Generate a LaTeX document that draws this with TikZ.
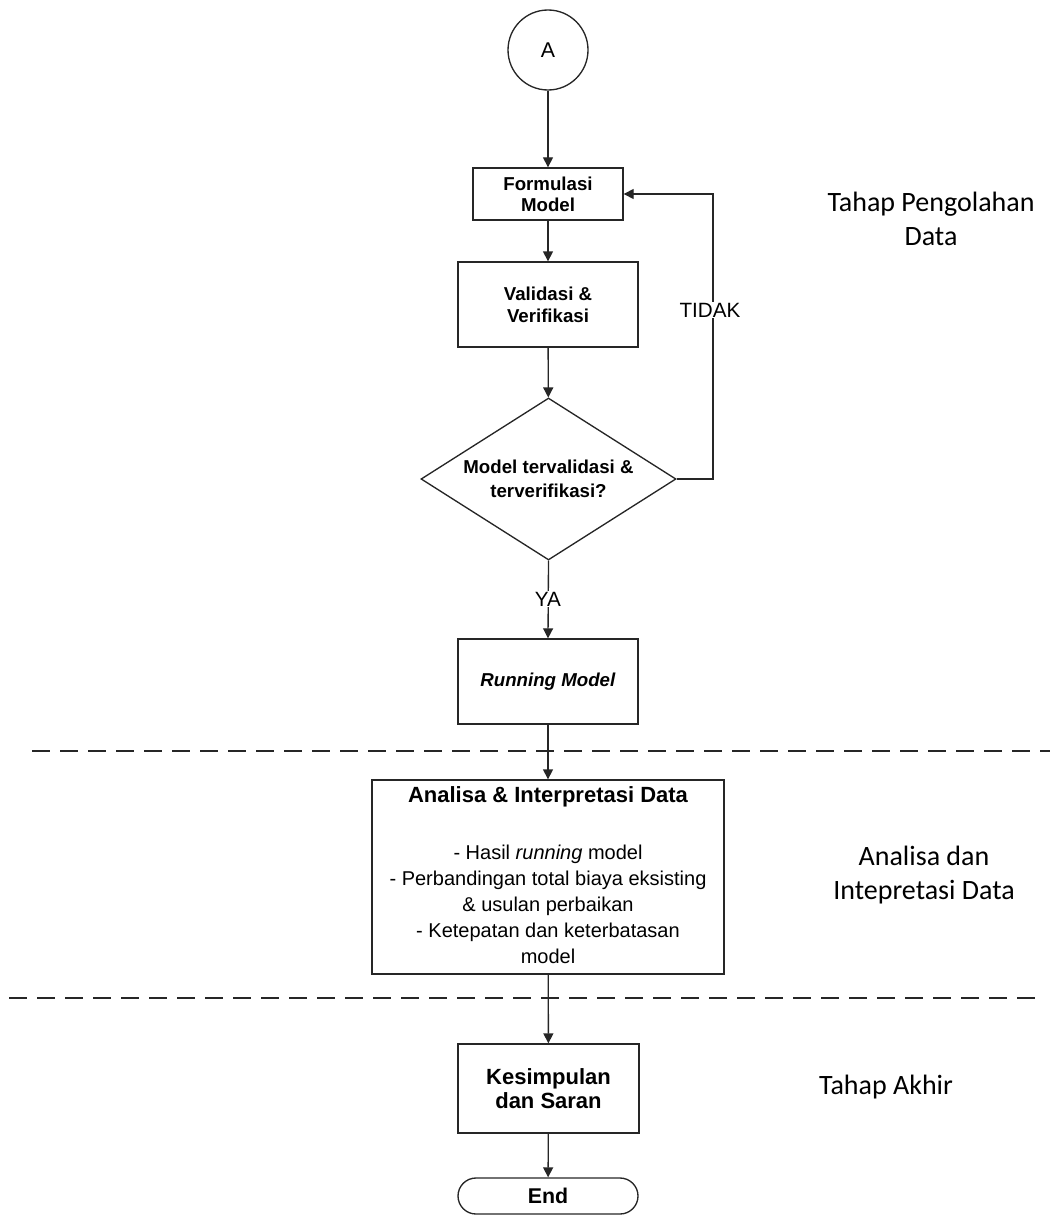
\documentclass[tikz,border=0pt]{standalone}
\usepackage{fontspec}
\setmainfont{Liberation Sans}
\newfontfamily\calibri{Carlito}
\usetikzlibrary{shapes.geometric,arrows.meta}
\newdimen\pxu
\pxu=0.75pt
\begin{document}
\begin{tikzpicture}[x=0.75pt,y=-0.75pt,
  line/.style={draw=black!85,line width=1pt},
  arr/.style={line,-{Triangle[length=7.5pt,width=7.5pt]}},
  procbox/.style={rectangle,line,fill=white,inner sep=0pt,align=center,font=\bfseries\fontsize{14}{16.5}\selectfont},
  phase/.style={align=center,font=\calibri\fontsize{21}{26}\selectfont},
  sepline/.style={draw=black!85,line width=2.2pt,dash pattern=on 13.5pt off 7.5pt},
  edgelabel/.style={fill=white,inner sep=1pt,font=\fontsize{15.5}{18}\selectfont}]
\useasboundingbox (0,0) rectangle (1055,1216);

% connector circle
\node[circle,line,minimum size=80*\pxu,inner sep=0pt,font=\fontsize{16}{18}\selectfont] (A) at (548,50) {A};

% processing stage
\node[procbox,minimum width=150*\pxu,minimum height=52*\pxu,font=\bfseries\fontsize{14}{15.5}\selectfont] (form) at (548,194) {Formulasi\\Model};
\node[procbox,minimum width=180*\pxu,minimum height=85*\pxu] (valid) at (548,304.5) {Validasi \&\\Verifikasi};
\node[diamond,line,aspect=1.57,inner sep=0pt,minimum width=255*\pxu,minimum height=162*\pxu,align=center,font=\bfseries\fontsize{14}{18}\selectfont] (dia) at (548.5,479) {Model tervalidasi \&\\terverifikasi?};
\node[procbox,minimum width=180*\pxu,minimum height=85*\pxu] (run) at (548,681.5) {\textit{Running Model}};

% analysis stage
\node[rectangle,line,minimum width=352*\pxu,minimum height=194*\pxu,inner sep=0pt] (anal) at (548,877) {};
\node[font=\bfseries\fontsize{16.5}{19}\selectfont] (analtitle) at (548,797) {Analisa \& Interpretasi Data};
\node[align=center,font=\fontsize{15}{19.5}\selectfont] (analbody) at (548,904) {- Hasil \textit{running} model\\- Perbandingan total biaya eksisting\\\& usulan perbaikan\\- Ketepatan dan keterbatasan\\model};

% final stage
\node[procbox,minimum width=181*\pxu,minimum height=89*\pxu,font=\bfseries\fontsize{16.5}{18}\selectfont] (kes) at (548.5,1088.5) {Kesimpulan\\dan Saran};
\node[rectangle,line,rounded corners=13.5pt,minimum width=180*\pxu,minimum height=36*\pxu,inner sep=0pt,font=\bfseries\fontsize{16}{18}\selectfont] (end) at (548,1196) {End};

% stage separators
\coordinate (s1a) at (32,751);
\coordinate (s1b) at (1050,751);
\coordinate (s2a) at (9,998);
\coordinate (s2b) at (1045,998);
\draw[sepline] (s1a) -- (s1b);
\draw[sepline] (s2a) -- (s2b);

% flow
\draw[arr] (A) -- (form);
\draw[arr] (form) -- (valid);
\draw[arr] (valid) -- (dia);
\coordinate (loop) at (713,479);
\draw[arr] (dia.east) -- (loop) |- (form.east);
\node[edgelabel] (tidak) at (710,310) {TIDAK};
\draw[arr] (dia.south) -- (run.north);
\node[edgelabel] (ya) at (548,599) {YA};
\draw[arr] (run) -- (anal);
\draw[arr] (anal) -- (kes);
\draw[arr] (kes) -- (end);

% stage names
\node[phase] (p1) at (931,219) {Tahap Pengolahan\\Data};
\node[phase] (p2) at (924,875) {Analisa dan\\Intepretasi Data};
\node[phase] (p3) at (886,1087) {Tahap Akhir};
\end{tikzpicture}
\end{document}
